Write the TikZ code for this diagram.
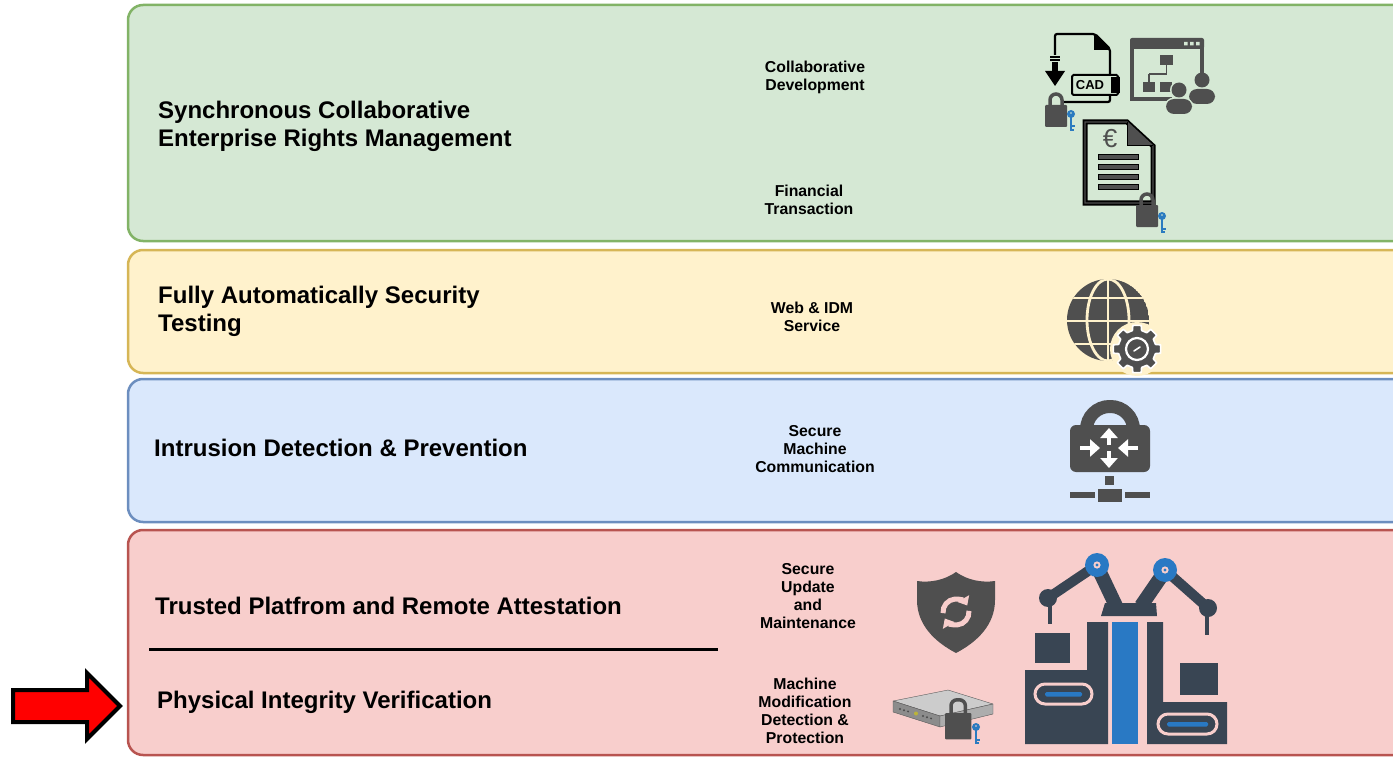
\documentclass[tikz,border=0pt]{standalone}
\usepackage{fontspec}
\setmainfont{Liberation Sans}
\usetikzlibrary{arrows.meta,calc}

\definecolor{gfill}{HTML}{D5E8D4}\definecolor{gline}{HTML}{82B366}
\definecolor{yfill}{HTML}{FFF2CC}\definecolor{yline}{HTML}{D6B656}
\definecolor{bfill}{HTML}{DAE8FC}\definecolor{bline}{HTML}{6C8EBF}
\definecolor{rfill}{HTML}{F8CECC}\definecolor{rline}{HTML}{B85450}
\definecolor{icon}{HTML}{4F4F4F}
\definecolor{keyblue}{HTML}{2B7BC0}
\definecolor{slate}{HTML}{394553}
\definecolor{fblue}{HTML}{2979C4}

\tikzset{
  band/.style={rounded corners=15pt, line width=2.5pt},
  head/.style={font=\bfseries\fontsize{24}{28}\selectfont, align=left, inner sep=0pt},
  label/.style={font=\bfseries\fontsize{15.8}{18}\selectfont, align=center, inner sep=0pt},
  lockicon/.pic={
    \fill[icon, rounded corners=1pt] (0,0) rectangle (22,22);
    \draw[icon, line width=3.5pt, rounded corners=6pt] (5,1) -- (5,-11) -- (17,-11) -- (17,1);
  },
  keyicon/.pic={
    \fill[keyblue, even odd rule] (0,0) circle (4) (0,-1) circle (1.2);
    \fill[keyblue] (-1.1,3) rectangle (1.1,17);
    \fill[keyblue] (1.1,11.5) rectangle (3.6,13.5);
    \fill[keyblue] (1.1,15) rectangle (3.0,17);
  },
  person/.pic={
    \path[pic actions] (0,0) circle (7.5);
    \path[pic actions, rounded corners=8pt] (-13,24) -- (-13,9) -- (13,9) -- (13,24) -- cycle;
  }
}

\begin{document}
\begin{tikzpicture}[x=1pt,y=-1pt]
\useasboundingbox (0,0) rectangle (1393,757);

% coloured bands, open to the right
\begin{scope}
  \clip (0,0) rectangle (1393,757);
  \draw[band, fill=gfill, draw=gline] (128,5) rectangle (1430,241);
  \draw[band, fill=yfill, draw=yline] (128,250) rectangle (1430,373);
  \draw[band, fill=bfill, draw=bline] (128,379) rectangle (1430,522);
  \draw[band, fill=rfill, draw=rline] (128,530) rectangle (1430,755);
\end{scope}

% headings
\node[head, anchor=west] (erm) at (158,126) {Synchronous Collaborative\\Enterprise Rights Management};
\node[head, anchor=west] (fast) at (158,311) {Fully Automatically Security\\Testing};
\node[head, anchor=base west] (idp) at (154,456.5) {Intrusion Detection \& Prevention};
\node[head, anchor=base west] (tpra) at (155,614.5) {Trusted Platfrom and Remote Attestation};
\node[head, anchor=base west] (piv) at (157,708.5) {Physical Integrity Verification};

% divider between the two red topics
\coordinate (divL) at (149,649);
\coordinate (divR) at (718,649);
\draw[line width=3pt] (divL) -- (divR);

% topic labels
\node[label] (collab) at (815,77) {Collaborative\\Development};
\node[label] (fin) at (809,200) {Financial\\Transaction};
\node[label] (web) at (812,317) {Web \& IDM\\Service};
\node[label] (smc) at (815,449) {Secure\\Machine\\Communication};
\node[label] (sum) at (808,596) {Secure\\Update\\and\\Maintenance};
\node[label] (mmd) at (805,711) {Machine\\Modification\\Detection \&\\Protection};

% red block arrow
\draw[line width=4pt, fill=red, line join=miter, miter limit=10]
  (13,690) -- (87,690) -- (87,673) -- (120,706) -- (87,739) -- (87,722) -- (13,722) -- cycle;

% ---------- CAD file with download arrow ----------
\draw[black, line width=2.2pt, rounded corners=2pt] (1055,55) -- (1055,34) -- (1095,34) -- (1110,49) -- (1110,102) -- (1062,102);
\fill[black] (1094,34) -- (1110,50) -- (1094,50) -- cycle;
\draw[line width=1.2pt] (1050,57) -- (1060,57) (1050,60) -- (1060,60);
\fill (1052,62) rectangle (1058,72);
\fill (1045,71) -- (1065,71) -- (1055,86) -- cycle;
\draw[line width=2pt, fill=gfill, rounded corners=1.5pt] (1072,75) rectangle (1118,95);
\fill (1111,77) rectangle (1120,93);
\node[font=\bfseries\fontsize{13}{13}\selectfont, inner sep=0pt] (cad) at (1090,85.5) {CAD};
\pic at (1045,105) {lockicon};
\pic at (1071,114) {keyicon};

% ---------- presentation screen with org chart ----------
\fill[icon, rounded corners=2pt] (1130,38) rectangle (1204,49);
\fill[gfill] (1184,42) rectangle (1187.5,45.5) (1190,42) rectangle (1193.5,45.5) (1196,42) rectangle (1199.5,45.5);
\draw[icon, line width=4pt] (1132,47) -- (1132,99) -- (1172,99);
\draw[icon, line width=4pt] (1202,47) -- (1202,75);
\fill[icon] (1160,55) rectangle (1173,65);
\draw[icon, line width=1.6pt] (1166.5,65) -- (1166.5,74) (1149,74) -- (1166.5,74) (1149,74) -- (1149,82);
\fill[icon] (1143,82) rectangle (1155,92);
\fill[icon] (1160,82) rectangle (1172,92);
\begin{scope}
  \clip (1120,30) rectangle (1230,106);
  \pic[fill=icon] at (1202,80) {person};
\end{scope}
\pic[draw=gfill, line width=3pt] at (1179,90) {person};
\pic[fill=icon] at (1179,90) {person};

% ---------- invoice with euro sign ----------
\draw[black, line width=5pt, fill=gfill, line join=miter] (1085,122) -- (1127,122) -- (1153,146) -- (1153,203) -- (1085,203) -- cycle;
\draw[icon, line width=1.4pt, line join=miter] (1085,122) -- (1127,122) -- (1153,146) -- (1153,203) -- (1085,203) -- cycle;
\fill[icon] (1127,122) -- (1153,146) -- (1127,146) -- cycle;
\draw[black, line width=1pt] (1127,122) -- (1127,146) -- (1153,146);
\node[font=\fontsize{26}{26}\selectfont, text=icon, inner sep=0pt] (euro) at (1110,139) {€};
\foreach \ly in {157,167,177,187}
  \draw[black, fill=icon, line width=0.8pt] (1098,\ly-2.5) rectangle (1138,\ly+2.5);
\pic at (1136,205) {lockicon};
\pic at (1162,216) {keyicon};

% ---------- globe with gear ----------
\begin{scope}
  \clip (1108,320) circle (41);
  \fill[icon] (1108,320) circle (41);
  \draw[yfill, line width=2.8pt] (1108,270) -- (1108,370);
  \draw[yfill, line width=2.8pt] (1108,320) ellipse [x radius=21, y radius=41];
  \draw[yfill, line width=2.8pt] (1060,298) -- (1160,298) (1060,321) -- (1160,321) (1060,344) -- (1160,344);
\end{scope}
\begin{scope}[shift={(1137,349)}]
  \fill[yfill] (0,0) circle (27);
  \draw[white, fill=icon, line width=1.6pt, line join=round]
    ({-14}:19) \foreach \a in {0,45,...,315} { -- ({\a-10}:24) -- ({\a+10}:24) -- ({\a+14}:19) -- ({\a+31}:19) } -- cycle;
  \draw[white, line width=2.2pt] (0,0) circle (11);
  \draw[white, line width=1.6pt, line cap=round] (-3,2) -- (3,-2);
\end{scope}

% ---------- locked network switch ----------
\draw[icon, line width=13pt, rounded corners=23pt] (1086.5,434) -- (1086.5,406.5) -- (1133.5,406.5) -- (1133.5,434);
\fill[icon, rounded corners=6pt] (1070,425) rectangle (1150,472);
\begin{scope}[white, line width=4pt, -{Triangle[width=17pt,length=10pt]}]
  \draw (1109,445) -- (1109,428);
  \draw (1109,451) -- (1109,468);
  \draw (1080,448) -- (1100,448);
  \draw (1138,448) -- (1118,448);
\end{scope}
\fill[icon] (1105,476) rectangle (1114,485);
\fill[icon] (1098,489) rectangle (1122,502);
\fill[icon] (1070,492) rectangle (1095,498);
\fill[icon] (1125,492) rectangle (1150,498);

% ---------- shield with refresh arrows ----------
\fill[icon] (956,572) .. controls (945,580) and (930,583) .. (917,581) -- (917,600)
  .. controls (917,625) and (935,642) .. (956,653) .. controls (977,642) and (995,625) .. (995,600)
  -- (995,581) .. controls (982,583) and (967,580) .. (956,572) -- cycle;
\begin{scope}[shift={(956,612)}, rfill, line width=5pt, -{Triangle[width=13pt,length=8pt]}]
  \draw (175:13) arc [start angle=175, end angle=330, radius=13];
  \draw (355:13) arc [start angle=355, end angle=510, radius=13];
\end{scope}

% ---------- server rack with lock ----------
\draw[black!65, fill=black!20, line join=round] (893,701) -- (948,690) -- (993,704) -- (940,716) -- cycle;
\draw[black!65, fill=black!45, line join=round] (893,701) -- (940,716) -- (940,727) -- (893,712) -- cycle;
\draw[black!65, fill=black!32, line join=round] (940,716) -- (993,704) -- (993,714) -- (940,727) -- cycle;
\foreach \lx/\ly in {900/709,904/710.2,908/711.4,923/716,927/717.2,931/718.4}
  \fill[black!70] (\lx,\ly) circle (1.1);
\fill[yellow!70!black] (916,713.5) circle (2);
\pic[scale=1.2] at (945,713) {lockicon};
\pic at (976,727) {keyicon};

% ---------- factory with robot arms ----------
\fill[slate] (1025,670) -- (1087,670) -- (1087,622) -- (1108,622) -- (1108,744) -- (1025,744) -- cycle;
\fill[slate] (1035,633) rectangle (1070,663);
\draw[rfill, line width=3pt, rounded corners=10pt] (1035,684) rectangle (1092,704);
\fill[fblue, rounded corners=1.5pt] (1045,692) rectangle (1082,696.5);
\fill[fblue] (1112,622) rectangle (1138,744);
\fill[slate] (1147,622) -- (1163,622) -- (1163,702) -- (1227,702) -- (1227,744) -- (1147,744) -- cycle;
\fill[slate] (1180,663) rectangle (1218,695);
\draw[rfill, line width=3pt, rounded corners=10pt] (1158,714) rectangle (1217,734);
\fill[fblue, rounded corners=1.5pt] (1167,722) rectangle (1208,726.5);
% robot arms
\fill[slate] (1101,616) -- (1105,603) -- (1156,603) -- (1157,616) -- cycle;
\draw[slate, line width=14pt] (1116,606) -- (1097,566);
\draw[slate, line width=14pt] (1141,606) -- (1165,571);
\draw[slate, line width=10pt] (1097,565) -- (1048,598);
\draw[slate, line width=10pt] (1165,570) -- (1208,608);
\fill[slate] (1048,598) circle (9);
\fill[slate] (1208,608) circle (9);
\draw[slate, line width=4pt] (1050,602) -- (1050,624);
\draw[slate, line width=4pt] (1207,612) -- (1207,635);
\foreach \jx/\jy in {1097/565,1165/570} {
  \fill[fblue] (\jx,\jy) circle (12);
  \fill[rfill] (\jx,\jy) circle (3.6);
  \fill[fblue] (\jx,\jy) circle (1.6);
}
\end{tikzpicture}
\end{document}
